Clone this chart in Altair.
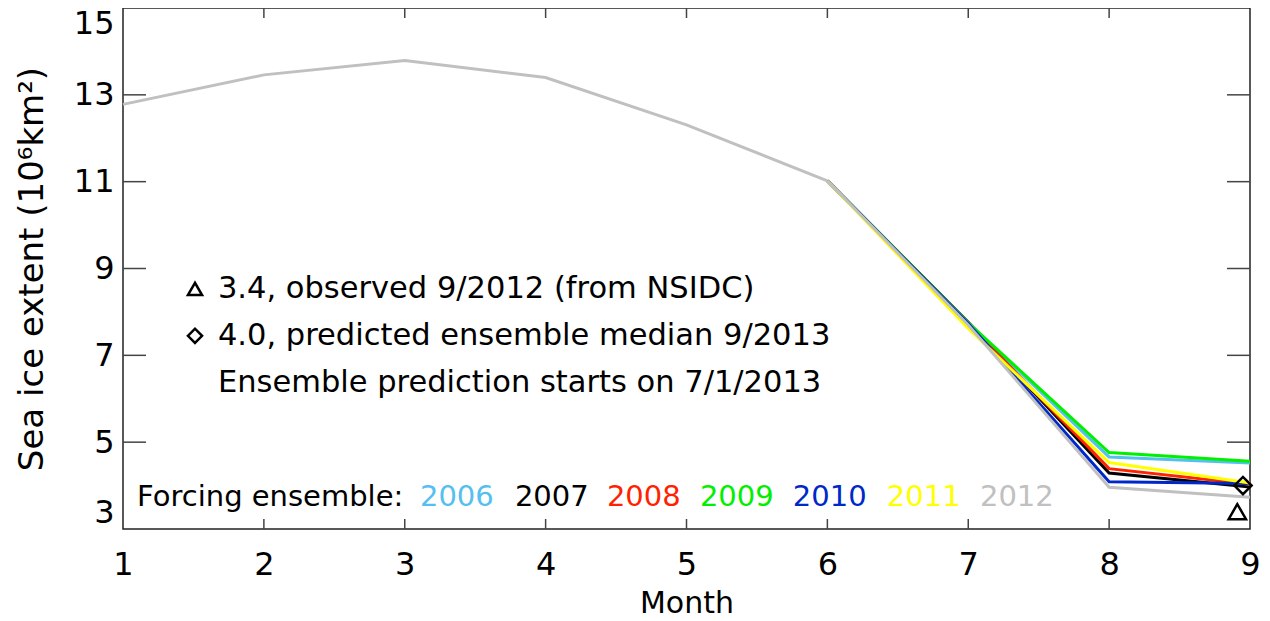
import altair as alt
import pandas as pd

# ---------------- data ----------------
months = [1, 2, 3, 4, 5, 6, 7, 8, 9]
common_jan_jun = [12.78, 13.46, 13.79, 13.40, 12.31, 11.02]   # shared by all members
years = ["2006", "2007", "2008", "2009", "2010", "2011", "2012"]
colors = ["#55C0F0", "#000000", "#FF2200", "#00F000", "#0028C8", "#FFFF00", "#C0C0C0"]
jul = [7.74, 7.76, 7.73, 7.75, 7.73, 7.62, 7.70]
aug = [4.66, 4.29, 4.39, 4.76, 4.09, 4.53, 3.96]
sep = [4.52, 3.97, 4.03, 4.56, 4.05, 4.06, 3.73]

obs_month, obs_value = 8.91, 3.4      # observed 9/2012
med_month, med_value = 8.95, 4.0      # predicted ensemble median 9/2013

x_ticks = [1, 2, 3, 4, 5, 6, 7, 8, 9]
y_ticks = [3, 5, 7, 9, 11, 13, 15]
inner_x_ticks = [2, 3, 4, 5, 6, 7, 8]
inner_y_ticks = [5, 7, 9, 11, 13]

note_lines = ["3.4, observed 9/2012 (from NSIDC)",
              "4.0, predicted ensemble median 9/2013",
              "Ensemble prediction starts on 7/1/2013"]
note_y = [8.53, 7.45, 6.36]
note_x = 1.674
sym_x = 1.511

legend_title = "Forcing ensemble:"
legend_x = [1.10, 3.108, 3.782, 4.435, 5.095, 5.755, 6.422, 7.083]
legend_y = 3.74

# ---------------- tables ----------------
ens_rows = []
for i, yr in enumerate(years):
    vals = [common_jan_jun[-1], jul[i], aug[i], sep[i]]
    for m, v in zip(months[5:], vals):
        ens_rows.append({"month": m, "extent": v, "year": yr})
ens_df = pd.DataFrame(ens_rows)
common_df = pd.DataFrame({"month": months[:6], "extent": common_jan_jun})

FONT = "DejaVu Sans"
W, H = 1127, 521

xs = alt.Scale(domain=[1, 9], nice=False, zero=False)
ys = alt.Scale(domain=[3, 15], nice=False, zero=False)
YT = "Sea ice extent (10\u2076km\u00b2)"

X_AX = alt.Axis(values=x_ticks, format="d", ticks=False, domain=False, grid=False,
                labelFontSize=32, labelFont=FONT, labelColor="black",
                labelPadding=20, labelFlush=False,
                title="Month", titleFontSize=30, titleFont=FONT,
                titleFontWeight="normal", titleColor="black", titlePadding=8)
Y_AX = alt.Axis(values=y_ticks, format="d", ticks=False, domain=False, grid=False,
                labelFontSize=32, labelFont=FONT, labelColor="black",
                labelPadding=9, labelFlush=True,
                title=YT, titleFontSize=34,
                titleFont=FONT, titleFontWeight="normal", titleColor="black",
                titlePadding=24)


def X(f):
    return alt.X(f, scale=xs, axis=X_AX, title="Month")


def Y(f):
    return alt.Y(f, scale=ys, axis=Y_AX, title=YT)


ens_lines = alt.Chart(ens_df).mark_line(strokeWidth=3).encode(
    x=X("month:Q"), y=Y("extent:Q"),
    color=alt.Color("year:N", scale=alt.Scale(domain=years, range=colors), legend=None),
)
common_line = alt.Chart(common_df).mark_line(strokeWidth=3, color=colors[-1]).encode(
    x=X("month:Q"), y=Y("extent:Q"))

# inward ticks
ydf = pd.DataFrame({"v": inner_y_ticks})
xdf = pd.DataFrame({"v": inner_x_ticks})
tick_style = dict(color="#444444", strokeWidth=1.5)
lt = alt.Chart(ydf).mark_rule(**tick_style).encode(
    y=Y("v:Q"), x=alt.value(0), x2=alt.value(23))
rt = alt.Chart(ydf).mark_rule(**tick_style).encode(
    y=Y("v:Q"), x=alt.value(W - 23), x2=alt.value(W))
bt = alt.Chart(xdf).mark_rule(**tick_style).encode(
    x=X("v:Q"), y=alt.value(H - 10), y2=alt.value(H))
tt = alt.Chart(xdf).mark_rule(**tick_style).encode(
    x=X("v:Q"), y=alt.value(0), y2=alt.value(10))

# markers at month 9
tri = alt.Chart(pd.DataFrame({"m": [obs_month], "v": [obs_value]})).mark_point(
    shape="triangle-up", filled=False, size=300, strokeWidth=2.5, color="black", opacity=1
).encode(x=X("m:Q"), y=Y("v:Q"))
dia = alt.Chart(pd.DataFrame({"m": [med_month], "v": [med_value]})).mark_point(
    shape="diamond", filled=False, size=300, strokeWidth=2.5, color="black", opacity=1
).encode(x=X("m:Q"), y=Y("v:Q"))

# note symbols
sym_df = pd.DataFrame({"m": [sym_x, sym_x], "v": note_y[:2], "s": ["triangle-up", "diamond"]})
syms = alt.Chart(sym_df).mark_point(filled=False, size=200, strokeWidth=2.5,
                                    color="black", opacity=1).encode(
    x=X("m:Q"), y=Y("v:Q"), shape=alt.Shape("s:N", scale=None))

notes_df = pd.DataFrame({"m": [note_x] * 3, "v": note_y, "t": note_lines})
notes = alt.Chart(notes_df).mark_text(align="left", baseline="middle", font=FONT,
                                      fontSize=30.5, color="black").encode(
    x=X("m:Q"), y=Y("v:Q"), text="t:N")

leg_df = pd.DataFrame({"m": legend_x, "v": [legend_y] * 8,
                       "t": [legend_title] + years, "c": ["#000000"] + colors})
leg = alt.Chart(leg_df).mark_text(align="left", baseline="middle", font=FONT,
                                  fontSize=29).encode(
    x=X("m:Q"), y=Y("v:Q"), text="t:N", color=alt.Color("c:N", scale=None))

chart = alt.layer(lt, rt, bt, tt, ens_lines, common_line, tri, dia, syms, notes, leg).properties(
    width=W, height=H,
    autosize=alt.AutoSizeParams(type="none"),
    padding={"left": 115, "top": 0, "right": 12, "bottom": 86},
    background="white",
).configure_view(stroke="#222222", strokeWidth=1.5)

chart.save("out.html", embed_options={"renderer": "svg", "actions": False})
